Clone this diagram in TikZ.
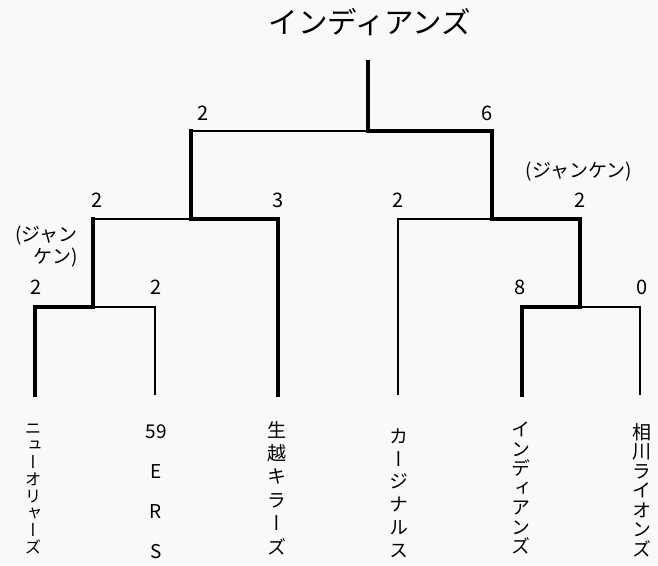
\documentclass[tikz,border=0pt]{standalone}
\usepackage{fontspec}
\setmainfont{Noto Sans CJK JP}
\newfontfamily\tate[RawFeature={+vert}]{Noto Sans CJK JP}
\usepackage{tikz}
\usetikzlibrary{positioning}
\tikzset{loser/.style={line width=1.2pt}}
\tikzset{winner/.style={line width=3.6pt,line cap=rect}}
\tikzset{score/.style={inner sep=0pt,font=\fontsize{20}{20}\selectfont}}
\tikzset{team/.style 2 args={inner sep=0pt,align=center,font=\tate\fontsize{#1}{#2}\selectfont}}

\begin{document}
\begin{tikzpicture}[x=1pt,y=-1pt]
\fill[gray!5] (0,0) rectangle (658,565);
\useasboundingbox (0,0) rectangle (658,565);
\coordinate (l1) at (35,395);
\coordinate (l2) at (155,395);
\coordinate (l3) at (278,395);
\coordinate (l4) at (398,395);
\coordinate (l5) at (522,395);
\coordinate (l6) at (640,395);
\coordinate (m1) at (93,307);
\coordinate (m2) at (580,307);
\coordinate (s1) at (191,219);
\coordinate (s2) at (492,219);
\coordinate (f) at (368,131);
\coordinate (top) at (368,62);
\node[font=\fontsize{29.5}{29.5}\selectfont] (champ) at (370,22) {インディアンズ};
% losers
\draw[loser] (l2) |- (m1);
\draw[loser] (l6) |- (m2);
\draw[loser] (l4) |- (s2);
\draw[loser] (m1 |- s1) -- (s1);
\draw[loser] (s1 |- f) -- (f);
% winners
\draw[winner] (l1) |- (m1) -- (m1 |- s1);
\draw[winner] (l3) |- (s1) -- (s1 |- f);
\draw[winner] (l5) |- (m2) |- (s2) |- (f) -- (top);
\node[score] (sf1) at (203,113) {2};
\node[score] (sf2) at (487,113) {6};
\node[score] (ss1) at (97,200) {2};
\node[score] (ss2) at (278,200) {3};
\node[score] (ss3) at (398,200) {2};
\node[score] (ss4) at (580,200) {2};
\node[score] (sm1) at (36,287) {2};
\node[score] (sm2) at (156,287) {2};
\node[score] (sm3) at (520,287) {8};
\node[score] (sm4) at (642,287) {0};
\node[inner sep=0pt,font=\fontsize{19}{19}\selectfont] (jr) at (579,172) {(ジャンケン)};
\node[inner sep=0pt,align=right,anchor=east,font=\fontsize{19}{22}\selectfont] (jl) at (78,247) {(ジャン\\ケン)};
\node[team={16.5}{17}] (t1) at (33,489) {ニ\\ュ\\ー\\オ\\リ\\ャ\\ー\\ズ};
\node[team={19}{40}] (t2) at (156,492) {59\\E\\R\\S};
\node[team={19}{23.4}] (t3) at (277,488) {生\\越\\キ\\ラ\\ー\\ズ};
\node[team={19}{22.8}] (t4) at (399,493) {カ\\ー\\ジ\\ナ\\ル\\ス};
\node[team={19}{19.5}] (t5) at (521,488) {イ\\ン\\デ\\ィ\\ア\\ン\\ズ};
\node[team={19}{19.5}] (t6) at (642,490) {相\\川\\ラ\\イ\\オ\\ン\\ズ};
\end{tikzpicture}
\end{document}
